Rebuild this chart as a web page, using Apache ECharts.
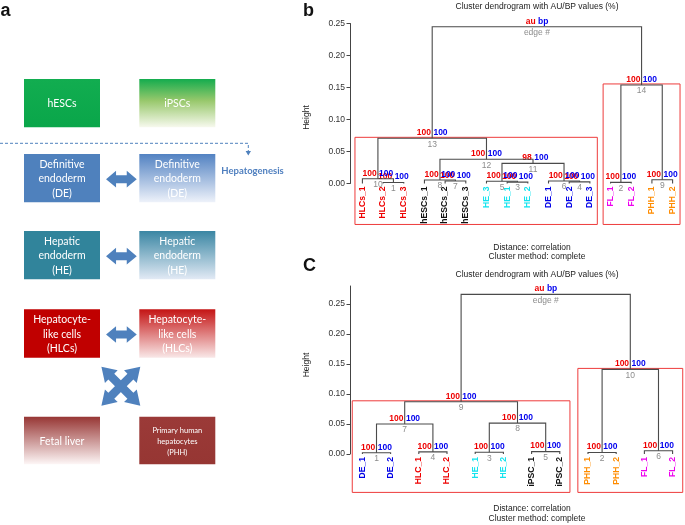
<!DOCTYPE html>
<html><head><meta charset="utf-8">
<script src="https://cdn.jsdelivr.net/npm/echarts@6/dist/echarts.min.js"></script>
<style>html,body{margin:0;padding:0;background:#fff}#chart{width:685px;height:525px}</style>
</head><body><div id="chart"></div>
<script>
// ---------------- Panel a (schematic) ----------------
const stageLeft  = ['hESCs', 'Definitive\nendoderm\n(DE)', 'Hepatic\nendoderm\n(HE)', 'Hepatocyte-\nlike cells\n(HLCs)', 'Fetal liver'];
const stageRight = ['iPSCs', 'Definitive\nendoderm\n(DE)', 'Hepatic\nendoderm\n(HE)', 'Hepatocyte-\nlike cells\n(HLCs)', 'Primary human\nhepatocytes\n(PHH)'];
const processLabel = 'Hepatogenesis';

// ---------------- Panel b data ----------------
const bLeaves = ['HLCs_1','HLCs_2','HLCs_3','hESCs_1','hESCs_2','hESCs_3','HE_3','HE_1','HE_2','DE_1','DE_2','DE_3','FL_1','FL_2','PHH_1','PHH_2'];
// merge table in edge order (hclust style: negative = leaf number, positive = earlier edge)
const bMergeA  = [-2,-13,-8,-11,-7,-10,-5,-4,-15,-1, 5, 8,10, 2,13];
const bMergeB  = [-3,-14,-9,-12, 3,  4,-6, 7,-16, 1, 6,11,12, 9,14];
const bHeights = [0.0015,0.0018,0.0022,0.0025,0.0035,0.0038,0.0040,0.0055,0.0058,0.0075,0.0315,0.0380,0.0706,0.1540,0.2450];
const bAU = [100,100,100,100,100,100,100,100,100,100,98,100,100,100];
const bBP = [100,100,100,100,100,100,100,100,100,100,100,100,100,100];
const bBoxed = [13, 14];

// ---------------- Panel c data ----------------
const cLeaves = ['DE_1','DE_2','HLC_1','HLC_2','HE_1','HE_2','iPSC_1','iPSC_2','PHH_1','PHH_2','FL_1','FL_2'];
const cMergeA  = [-1,-9,-5,-3,-7,-11, 1, 3, 7, 2, 9];
const cMergeB  = [-2,-10,-6,-4,-8,-12, 4, 5, 8, 6,10];
const cHeights = [0.0020,0.0025,0.0030,0.0035,0.0040,0.0055,0.0500,0.0515,0.0870,0.1410,0.2660];
const cAU = [100,100,100,100,100,100,100,100,100,100];
const cBP = [100,100,100,100,100,100,100,100,100,100];
const cBoxed = [9, 10];

const yTicks = [0, 0.05, 0.10, 0.15, 0.20, 0.25];
const plotTitle = 'Cluster dendrogram with AU/BP values (%)';
const subLines = ['Distance: correlation', 'Cluster method: complete'];

// ---------------- styles ----------------
const FONT = 'Liberation Sans, Arial, sans-serif';
const LINE = '#4a4a4a', AU_COL = '#ee0000', BP_COL = '#0000ee', EDGE_COL = '#8c8c8c';
const groupColors = {HLCs:'#ee0000', HLC:'#ee0000', hESCs:'#111111', iPSC:'#111111', HE:'#12e3ee', DE:'#0000e6', FL:'#ee00ee', PHH:'#ff8c00'};
const leafColor = n => groupColors[n.split('_')[0]];

function buildTree(A, B, H) {
  const xs = [], mins = [], maxs = [], merges = [];
  const cx = c => c < 0 ? -c : xs[c-1];
  const ch = c => c < 0 ? 0 : H[c-1];
  const cmin = c => c < 0 ? -c : mins[c-1];
  const cmax = c => c < 0 ? -c : maxs[c-1];
  for (let i = 0; i < A.length; i++) {
    const xa = cx(A[i]), xb = cx(B[i]);
    xs.push((xa + xb) / 2);
    mins.push(Math.min(cmin(A[i]), cmin(B[i])));
    maxs.push(Math.max(cmax(A[i]), cmax(B[i])));
    merges.push([xa, ch(A[i]), xb, ch(B[i]), H[i], (xa + xb) / 2]);
  }
  return {merges, mins, maxs};
}

const RECT_BOTTOM = -0.064;
function dendroSeries(idx, leaves, A, B, H, AU, BP, boxed) {
  const t = buildTree(A, B, H);
  const nEdge = A.length;
  const mergeSeries = {
    type: 'custom', xAxisIndex: idx, yAxisIndex: idx, clip: false, silent: true,
    data: t.merges,
    renderItem: function (params, api) {
      const i = params.dataIndex;
      const m = t.merges[i];
      const p1 = api.coord([m[0], m[1]]), p2 = api.coord([m[0], m[4]]);
      const p3 = api.coord([m[2], m[4]]), p4 = api.coord([m[2], m[3]]);
      const pm = api.coord([m[5], m[4]]);
      const isRoot = i === nEdge - 1;
      const au = isRoot ? 'au' : String(AU[i]);
      const bp = isRoot ? 'bp' : String(BP[i]);
      const ed = isRoot ? 'edge #' : String(i + 1);
      return {type: 'group', children: [
        {type: 'polyline', shape: {points: [p1, p2, p3, p4]}, style: {stroke: LINE, lineWidth: 1.1, fill: null}},
        {type: 'text', style: {text: au, x: pm[0] - 1.2, y: pm[1] - 5.5, align: 'right', verticalAlign: 'middle', fill: AU_COL, font: 'bold 8.5px ' + FONT}},
        {type: 'text', style: {text: bp, x: pm[0] + 1.2, y: pm[1] - 5.5, align: 'left', verticalAlign: 'middle', fill: BP_COL, font: 'bold 8.5px ' + FONT}},
        {type: 'text', style: {text: ed, x: pm[0], y: pm[1] + 6, align: 'center', verticalAlign: 'middle', fill: EDGE_COL, font: '8.5px ' + FONT}}
      ]};
    }
  };
  const leafSeries = {
    type: 'custom', xAxisIndex: idx, yAxisIndex: idx, clip: false, silent: true,
    data: leaves.map((n, i) => [i + 1, 0]),
    renderItem: function (params, api) {
      const p = api.coord([api.value(0), api.value(1)]);
      const name = leaves[params.dataIndex];
      return {type: 'text', x: p[0], y: p[1] + 3, rotation: Math.PI / 2,
        style: {text: name, x: 0, y: 0, align: 'right', verticalAlign: 'middle', fill: leafColor(name), font: 'bold 8.6px ' + FONT}};
    }
  };
  const mx = 0.36;
  const rectSeries = {
    type: 'custom', xAxisIndex: idx, yAxisIndex: idx, clip: false, silent: true,
    data: boxed.map(e => [t.mins[e-1] - mx, t.maxs[e-1] + mx, RECT_BOTTOM, H[e-1]]),
    renderItem: function (params, api) {
      const a = api.coord([api.value(0), api.value(3)]);
      const b = api.coord([api.value(1), api.value(2)]);
      return {type: 'rect', shape: {x: a[0], y: a[1] - 1, width: b[0] - a[0], height: b[1] - a[1] + 1},
        style: {stroke: '#ee3b3b', lineWidth: 1, fill: null}};
    }
  };
  return [rectSeries, mergeSeries, leafSeries];
}

function yAxisCfg(idx, max) {
  return {
    gridIndex: idx, type: 'value', min: 0, max: max, interval: 0.05,
    axisLine: {show: true, onZero: false, lineStyle: {color: '#444', width: 1}},
    axisTick: {show: true, length: 3.5, customValues: yTicks, lineStyle: {color: '#444'}},
    axisLabel: {show: true, customValues: yTicks, fontSize: 8.5, fontFamily: FONT, color: '#333', margin: 5,
      formatter: v => v.toFixed(2)},
    splitLine: {show: false}
  };
}

// ---------------- panel a graphics ----------------
const g = [];
const boxLX = 24, boxRX = 139.3, boxW = 76;
const rowTop = [79, 154, 231, 309.3, 416.7];
const rowH = [48.3, 48.3, 48.3, 48.4, 47.5];
const grad = (c0, c1, mid) => new echarts.graphic.LinearGradient(0, 0, 0, 1,
  mid ? [{offset: 0, color: c0}, {offset: 0.45, color: mid}, {offset: 1, color: c1}] : [{offset: 0, color: c0}, {offset: 1, color: c1}]);
const leftFill = [grad('#12ad50', '#0aa64a'), '#4f81bd', '#31849b', '#c00000', grad('#973634', '#fdf6f6')];
const rightFill = [grad('#14ac4e', '#f7f9ee', '#98c86c'), grad('#5282c2', '#eef2fa'), grad('#3a86a3', '#e2eaf5'), grad('#c41414', '#f9e8e8'), grad('#9b3a38', '#963633')];
for (let r = 0; r < 5; r++) {
  g.push({type: 'rect', shape: {x: boxLX, y: rowTop[r], width: boxW, height: rowH[r]}, style: {fill: leftFill[r]}});
  g.push({type: 'rect', shape: {x: boxRX, y: rowTop[r], width: boxW, height: rowH[r]}, style: {fill: rightFill[r]}});
  const cy = rowTop[r] + rowH[r] / 2 + 0.8;
  g.push({type: 'text', style: {text: stageLeft[r], x: boxLX + boxW / 2, y: cy, align: 'center', verticalAlign: 'middle',
    fill: '#fff', font: '10.5px Lato', lineHeight: 14.5}});
  const small = r === 4;
  g.push({type: 'text', style: {text: stageRight[r], x: boxRX + boxW / 2, y: cy, align: 'center', verticalAlign: 'middle',
    fill: '#fff', font: small ? '7.5px Lato' : '10.5px Lato', lineHeight: small ? 11 : 14.5}});
}
function dblArrow(cx, cy, L, hl, hh, sh, ang) {
  const pts = [[-L/2, 0], [-L/2 + hl, -hh], [-L/2 + hl, -sh], [L/2 - hl, -sh], [L/2 - hl, -hh], [L/2, 0],
               [L/2 - hl, hh], [L/2 - hl, sh], [-L/2 + hl, sh], [-L/2 + hl, hh]];
  const c = Math.cos(ang), s = Math.sin(ang);
  return {type: 'polygon', shape: {points: pts.map(p => [cx + p[0] * c - p[1] * s, cy + p[0] * s + p[1] * c])},
    style: {fill: '#4f81bd'}};
}
[1, 2, 3].forEach(r => g.push(dblArrow(121.4, rowTop[r] + rowH[r] / 2 + 1, 30.7, 10, 8.3, 4, 0)));
g.push(dblArrow(120.85, 386.2, 55, 14, 9, 4.2, Math.PI / 4));
g.push(dblArrow(120.85, 386.2, 55, 14, 9, 4.2, -Math.PI / 4));
g.push({type: 'polyline', shape: {points: [[0, 143.3], [248.3, 143.3], [248.3, 152]]},
  style: {stroke: '#4f81bd', lineWidth: 1, lineDash: [3, 2], fill: null}});
g.push({type: 'polygon', shape: {points: [[245.6, 151], [251, 151], [248.3, 155.5]]}, style: {fill: '#4f81bd'}});
g.push({type: 'text', style: {text: processLabel, x: 252.5, y: 170.7, align: 'center', verticalAlign: 'middle',
  fill: '#4f7fbf', font: 'bold 9.5px Lato'}});

// panel letters and plot texts
g.push({type: 'text', style: {text: 'a', x: 0.5, y: 11, align: 'left', verticalAlign: 'middle', fill: '#111', font: 'bold 18px ' + FONT}});
g.push({type: 'text', style: {text: 'b', x: 303, y: 11, align: 'left', verticalAlign: 'middle', fill: '#111', font: 'bold 18px ' + FONT}});
g.push({type: 'text', style: {text: 'C', x: 303, y: 266, align: 'left', verticalAlign: 'middle', fill: '#111', font: 'bold 18px ' + FONT}});
[[6.7, 247.3, 256.7, 117.5], [275, 508.3, 518.3, 365]].forEach(p => {
  g.push({type: 'text', style: {text: plotTitle, x: 537, y: p[0], align: 'center', verticalAlign: 'middle', fill: '#222', font: '8.5px ' + FONT}});
  g.push({type: 'text', style: {text: subLines[0], x: 532, y: p[1], align: 'center', verticalAlign: 'middle', fill: '#222', font: '8.5px ' + FONT}});
  g.push({type: 'text', style: {text: subLines[1], x: 537, y: p[2], align: 'center', verticalAlign: 'middle', fill: '#222', font: '8.5px ' + FONT}});
  g.push({type: 'text', x: 307, y: p[3], rotation: Math.PI / 2,
    style: {text: 'Height', x: 0, y: 0, align: 'center', verticalAlign: 'middle', fill: '#222', font: '8.5px ' + FONT}});
});

const option = {
  animation: false,
  backgroundColor: '#fff',
  grid: [
    {left: 350, top: 23.5, width: 335.3, height: 160},
    {left: 350, top: 286, width: 336.6, height: 168}
  ],
  xAxis: [
    {gridIndex: 0, type: 'value', min: 0.4, max: 16.6, show: false},
    {gridIndex: 1, type: 'value', min: 0.56, max: 12.44, show: false}
  ],
  yAxis: [yAxisCfg(0, 0.25), yAxisCfg(1, 0.28)],
  series: [].concat(
    dendroSeries(0, bLeaves, bMergeA, bMergeB, bHeights, bAU, bBP, bBoxed),
    dendroSeries(1, cLeaves, cMergeA, cMergeB, cHeights, cAU, cBP, cBoxed)
  ),
  graphic: {elements: g}
};
const chart = echarts.init(document.getElementById('chart'));
chart.setOption(option);
</script>
</body></html>
